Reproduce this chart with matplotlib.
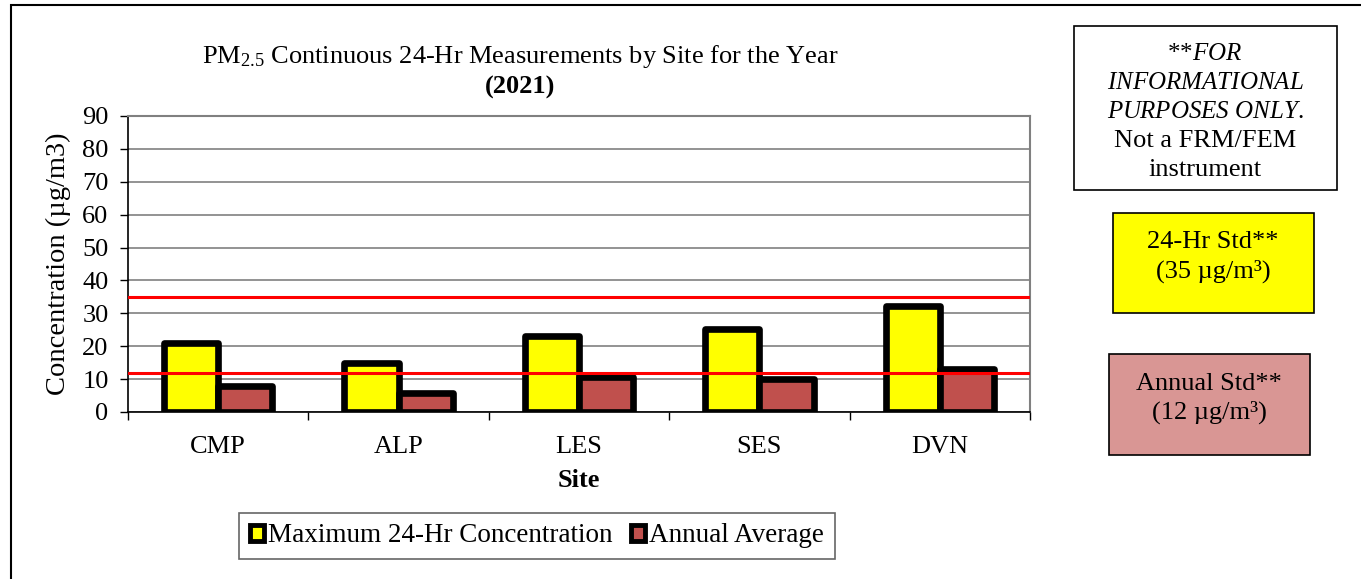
import matplotlib.pyplot as plt
import matplotlib.patches as mpatches
import numpy as np

plt.rcParams['font.family'] = ['Liberation Serif', 'DejaVu Serif']
plt.rcParams['mathtext.fontset'] = 'custom'
plt.rcParams['mathtext.rm'] = 'Liberation Serif'
plt.rcParams['mathtext.it'] = 'Liberation Serif:italic'
plt.rcParams['mathtext.bf'] = 'Liberation Serif:bold'

sites = ["CMP", "ALP", "LES", "SES", "DVN"]
max_24hr = [21, 14.8, 23.1, 25.1, 32.3]
annual_avg = [8.0, 5.7, 10.7, 10.0, 13.0]
std_24hr = 35
std_annual = 12

FS = 19
fig = plt.figure(figsize=(13.61, 5.79), dpi=100)
W, H = 1361, 579

# outer frame of the chart object (right and bottom run off the picture)
fig.patches.append(mpatches.Rectangle((11 / W, -0.2), 2, 1.2 - 5 / H, transform=fig.transFigure,
                                      fill=False, edgecolor="black", linewidth=1.5))

ax = fig.add_axes([128 / W, 1 - 412 / H, (1030 - 128) / W, (412 - 116) / H])
x = np.arange(len(sites))
bw = 0.3
ax.bar(x - bw / 2, max_24hr, bw, color="#FFFF00", edgecolor="black", linewidth=4.8,
       joinstyle="round", zorder=3, label="Maximum 24-Hr Concentration")
ax.bar(x + bw / 2, annual_avg, bw, color="#C0504D", edgecolor="black", linewidth=4.8,
       joinstyle="round", zorder=3, label="Annual Average")
ax.axhline(std_24hr, color="#FF0000", linewidth=2.2, zorder=4)
ax.axhline(std_annual, color="#FF0000", linewidth=2.2, zorder=4)

ax.set_xlim(-0.5, len(sites) - 0.5)
ax.set_ylim(0, 90)
ax.set_yticks(np.arange(0, 91, 10))
ax.yaxis.grid(True, color="#808080", linewidth=1.2, zorder=0)
ax.set_axisbelow(True)
ax.tick_params(axis="y", labelsize=FS, length=6, width=1, direction="out", pad=8)
ax.set_xticks(np.arange(-0.5, len(sites), 1))
ax.set_xticklabels([])
ax.set_xticks(x, minor=True)
ax.set_xticklabels(sites, minor=True, fontsize=FS)
ax.tick_params(axis="x", which="major", length=6, width=1, direction="out")
ax.tick_params(axis="x", which="minor", length=0, pad=17)
for s in ["top", "right"]:
    ax.spines[s].set_color("#808080")
    ax.spines[s].set_linewidth(1.5)
ax.spines["left"].set_linewidth(1.2)
ax.spines["bottom"].set_linewidth(1.2)

ax.set_xlabel("Site", fontsize=FS, fontweight="bold", labelpad=8)
ax.set_ylabel("Concentration (µg/m3)", fontsize=20.5, labelpad=8)

fig.text(520 / W, 1 - 57 / H, "PM$_{2.5}$ Continuous 24-Hr Measurements by Site for the Year",
         ha="center", va="center", fontsize=FS)
fig.text(520 / W, 1 - 87 / H, "(2021)", ha="center", va="center", fontsize=FS, fontweight="bold")

handles = [mpatches.Patch(facecolor="#FFFF00", edgecolor="black", linewidth=3.5),
           mpatches.Patch(facecolor="#C0504D", edgecolor="black", linewidth=3.5)]
leg = fig.legend(handles, ["Maximum 24-Hr Concentration", "Annual Average"], loc="center",
                 bbox_to_anchor=(537 / W, 1 - 536 / H), ncol=2, fontsize=19.5, frameon=True,
                 fancybox=False, edgecolor="#404040", handlelength=0.5, handleheight=0.5,
                 handletextpad=0.15, columnspacing=0.7, borderpad=0.4)
leg.get_frame().set_linewidth(1.2)

# side boxes
def box(x0, y0, x1, y1, fc):
    fig.patches.append(mpatches.Rectangle((x0 / W, 1 - y1 / H), (x1 - x0) / W, (y1 - y0) / H,
                                          transform=fig.transFigure, facecolor=fc,
                                          edgecolor="black", linewidth=1.2))

box(1074, 26, 1337, 190, "white")
box(1113, 213, 1314, 313, "#FFFF00")
box(1109, 354, 1310, 455, "#D99694")

cx = 1205 / W
info_lines = ["**$\\mathit{FOR}$", "$\\mathit{INFORMATIONAL}$", "$\\mathit{PURPOSES\\ ONLY}$.",
              "Not a FRM/FEM", "instrument"]
for i, t in enumerate(info_lines):
    fig.text(cx, 1 - (54 + i * 29) / H, t, ha="center", va="center",
             fontsize=FS - 1 if i < 3 else FS)

fig.text(1213 / W, 1 - 242 / H, "24-Hr Std**", ha="center", va="center", fontsize=FS)
fig.text(1213 / W, 1 - 271 / H, "(35 µg/m³)", ha="center", va="center", fontsize=FS)
fig.text(1209 / W, 1 - 384 / H, "Annual Std**", ha="center", va="center", fontsize=FS)
fig.text(1209 / W, 1 - 412 / H, "(12 µg/m³)", ha="center", va="center", fontsize=FS)

fig.savefig("out.png", dpi=100)
